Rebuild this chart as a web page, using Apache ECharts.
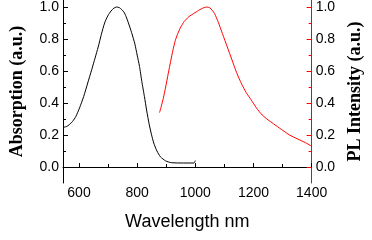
<!DOCTYPE html>
<html><head><meta charset="utf-8">
<script src="https://cdn.jsdelivr.net/npm/echarts@6/dist/echarts.min.js"></script>
<style>html,body{margin:0;padding:0;background:#fff}#c{width:372px;height:240px}</style>
</head><body><div id="c"></div>
<script>
const absWavelength = [545, 556, 567, 578, 589, 602, 616, 630, 644, 655, 666, 677, 688, 699, 710, 720, 729, 740, 754, 762, 770, 781, 792, 800, 808, 816, 825, 833, 841, 849, 857, 868, 880, 898, 918, 960, 995, 1000];
const absValues     = [0.248, 0.252, 0.265, 0.285, 0.315, 0.37, 0.44, 0.525, 0.61, 0.68, 0.75, 0.83, 0.90, 0.945, 0.975, 0.993, 1.0, 0.995, 0.97, 0.94, 0.90, 0.84, 0.77, 0.70, 0.63, 0.535, 0.44, 0.35, 0.27, 0.205, 0.15, 0.10, 0.064, 0.038, 0.027, 0.025, 0.025, 0.04];
const plWavelength  = [877, 883, 890, 898, 907, 915, 923, 931, 940, 950, 962, 978, 995, 1012, 1028, 1040, 1050, 1058, 1066, 1079, 1093, 1110, 1126, 1142, 1159, 1175, 1192, 1210, 1230, 1250, 1269, 1296, 1324, 1352, 1379, 1400];
const plValues      = [0.34, 0.38, 0.43, 0.50, 0.585, 0.66, 0.73, 0.79, 0.835, 0.875, 0.91, 0.94, 0.96, 0.98, 0.995, 1.0, 0.995, 0.98, 0.96, 0.905, 0.835, 0.75, 0.67, 0.59, 0.52, 0.465, 0.42, 0.37, 0.325, 0.295, 0.27, 0.235, 0.20, 0.175, 0.152, 0.13];
const xMajorTicks = [600, 800, 1000, 1200, 1400];
const xMinorTicks = [700, 900, 1100, 1300];
const yMajorTicks = [0, 0.2, 0.4, 0.6, 0.8, 1.0];
const yMinorTicks = [0.1, 0.3, 0.5, 0.7, 0.9];
const xName = 'Wavelength nm';
const yLeftName = 'Absorption (a.u.)';
const yRightName = 'PL Intensity (a.u.)';

const sans = '"Liberation Sans", Arial, sans-serif';
const serif = '"Liberation Serif", "Times New Roman", serif';
const X_MIN = 545, X_MAX = 1400, Y_MIN = -0.1, Y_MAX = 1.044;

function pairs(xs, ys) { return xs.map((x, i) => [x, ys[i]]); }

function yAxisDef(pos, color, major, name) {
  return {
    type: 'value', position: pos, min: Y_MIN, max: Y_MAX,
    name: name || '', nameLocation: 'middle', nameRotate: 90,
    nameGap: pos === 'left' ? 37 : 33,
    nameTextStyle: { fontFamily: serif, fontWeight: 'bold', fontSize: 18, color: '#000' },
    axisLine: { show: major, lineStyle: { color: color, width: 1 } },
    axisTick: { show: true, inside: true, length: major ? 5 : 3, customValues: major ? yMajorTicks : yMinorTicks, lineStyle: { color: color, width: 1 } },
    axisLabel: { show: major, customValues: yMajorTicks, margin: 4, color: '#000', fontFamily: sans, fontSize: 14, formatter: v => v.toFixed(1) },
    splitLine: { show: false }
  };
}

const chart = echarts.init(document.getElementById('c'), null, { renderer: 'canvas' });
chart.setOption({
  animation: false,
  backgroundColor: '#fff',
  grid: { left: 53, right: 59, top: 0, bottom: 57, containLabel: false },
  xAxis: [
    {
      type: 'value', min: X_MIN, max: X_MAX, position: 'bottom',
      name: xName, nameLocation: 'middle', nameGap: 30,
      nameTextStyle: { fontFamily: sans, fontSize: 18, color: '#000' },
      axisLine: { show: true, lineStyle: { color: '#000', width: 1 } },
      axisTick: { show: true, inside: true, length: 4, customValues: xMajorTicks, lineStyle: { color: '#000' } },
      axisLabel: { customValues: xMajorTicks, margin: 3, color: '#000', fontFamily: sans, fontSize: 14, formatter: v => String(v) },
      splitLine: { show: false }
    },
    {
      type: 'value', min: X_MIN, max: X_MAX, position: 'bottom',
      axisLine: { show: false },
      axisTick: { show: true, inside: true, length: 3, customValues: xMinorTicks, lineStyle: { color: '#000' } },
      axisLabel: { show: false },
      splitLine: { show: false }
    }
  ],
  yAxis: [
    yAxisDef('left', '#000', true, yLeftName),
    yAxisDef('right', '#ff0000', true, yRightName),
    yAxisDef('left', '#000', false),
    yAxisDef('right', '#ff0000', false)
  ],
  series: [
    { type: 'line', xAxisIndex: 0, yAxisIndex: 0, data: pairs(absWavelength, absValues), smooth: 0.2, showSymbol: false, lineStyle: { color: '#000', width: 1 }, itemStyle: { color: '#000' } },
    { type: 'line', xAxisIndex: 0, yAxisIndex: 1, data: pairs(plWavelength, plValues), smooth: 0.2, showSymbol: false, lineStyle: { color: '#ff0000', width: 1 }, itemStyle: { color: '#ff0000' } }
  ]
});
</script></body></html>
